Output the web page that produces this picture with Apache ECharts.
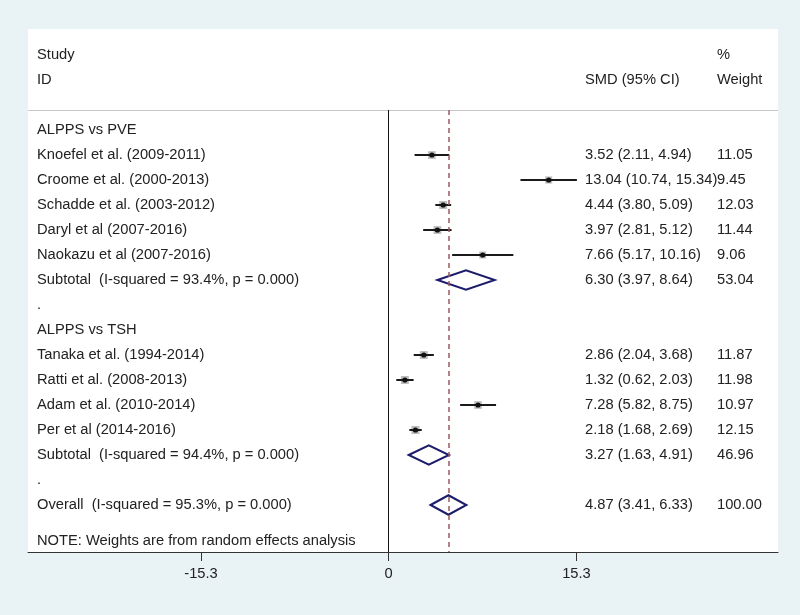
<!DOCTYPE html>
<html>
<head>
<meta charset="utf-8">
<script src="https://cdn.jsdelivr.net/npm/echarts@6/dist/echarts.min.js"></script>
<style>html,body{margin:0;padding:0;background:#e9f2f5;}#chart{width:800px;height:615px;}</style>
</head>
<body>
<div id="chart"></div>
<script>
// ---- data ----
const rowLabels = [
  'ALPPS vs PVE',
  'Knoefel et al. (2009-2011)',
  'Croome et al. (2000-2013)',
  'Schadde et al. (2003-2012)',
  'Daryl et al (2007-2016)',
  'Naokazu et al (2007-2016)',
  'Subtotal  (I-squared = 93.4%, p = 0.000)',
  '.',
  'ALPPS vs TSH',
  'Tanaka et al. (1994-2014)',
  'Ratti et al. (2008-2013)',
  'Adam et al. (2010-2014)',
  'Per et al (2014-2016)',
  'Subtotal  (I-squared = 94.4%, p = 0.000)',
  '.',
  'Overall  (I-squared = 95.3%, p = 0.000)'
];
const rowKind = ['group','study','study','study','study','study','pooled','blank',
                 'group','study','study','study','study','pooled','blank','pooled'];
const smd    = [null, 3.52, 13.04, 4.44, 3.97, 7.66, 6.30, null, null, 2.86, 1.32, 7.28, 2.18, 3.27, null, 4.87];
const lower  = [null, 2.11, 10.74, 3.80, 2.81, 5.17, 3.97, null, null, 2.04, 0.62, 5.82, 1.68, 1.63, null, 3.41];
const upper  = [null, 4.94, 15.34, 5.09, 5.12, 10.16, 8.64, null, null, 3.68, 2.03, 8.75, 2.69, 4.91, null, 6.33];
const weight = [null, 11.05, 9.45, 12.03, 11.44, 9.06, 53.04, null, null, 11.87, 11.98, 10.97, 12.15, 46.96, null, 100.00];
const xTicks = [-15.3, 0, 15.3];
const overallEffect = 4.87;
const headerStudy = ['Study', 'ID'];
const headerSMD = 'SMD (95% CI)';
const headerWeight = ['%', 'Weight'];
const noteText = 'NOTE: Weights are from random effects analysis';

// ---- layout helpers ----
const FONT = "'Liberation Sans', Arial, sans-serif";
const FS = 14.7;
const TXT = '#222';
const Y_MIN = -4.04, Y_MAX = 16.88;
const X_MIN = -29.4, X_MAX = 31.73;
const NOTE_ROW = 16.45;
const SEP_ROW = -0.8;
const HDR1 = -3, HDR2 = -2;

const rows = rowLabels.map((_, i) => i);

function labelMap(entries) {
  const vals = entries.map(e => e[0]);
  return {
    vals,
    fmt: function (v) {
      for (const e of entries) if (Math.abs(e[0] - v) < 1e-6) return e[1];
      return '';
    }
  };
}

const col1 = labelMap([[HDR1, headerStudy[0]], [HDR2, headerStudy[1]]]
  .concat(rows.map(i => [i, rowLabels[i]])).concat([[NOTE_ROW, noteText]]));
const col2 = labelMap([[HDR2, headerSMD]].concat(rows.filter(i => smd[i] != null)
  .map(i => [i, smd[i].toFixed(2) + ' (' + lower[i].toFixed(2) + ', ' + upper[i].toFixed(2) + ')'])));
const col3 = labelMap([[HDR1, headerWeight[0]], [HDR2, headerWeight[1]]].concat(rows.filter(i => weight[i] != null)
  .map(i => [i, weight[i].toFixed(2)])));

function yAx(col, offset) {
  return {
    type: 'value', inverse: true, min: Y_MIN, max: Y_MAX, position: 'left', offset: offset,
    axisLine: { show: false }, axisTick: { show: false }, splitLine: { show: false },
    axisLabel: {
      inside: true, align: 'left', margin: 9, customValues: col.vals, formatter: col.fmt,
      color: TXT, fontSize: FS, fontFamily: FONT, showMinLabel: true, showMaxLabel: true
    }
  };
}

const studyData = rows.filter(i => rowKind[i] === 'study').map(i => [lower[i], upper[i], smd[i], i, weight[i]]);
const pooledData = rows.filter(i => rowKind[i] === 'pooled').map(i => [lower[i], upper[i], smd[i], i]);

const chart = echarts.init(document.getElementById('chart'), null, { renderer: 'canvas' });
chart.setOption({
  backgroundColor: '#e9f2f5',
  animation: false,
  grid: { left: 28, right: 22, top: 29, bottom: 63, show: true, backgroundColor: '#ffffff', borderWidth: 0, outerBoundsMode: 'none' },
  xAxis: {
    type: 'value', min: X_MIN, max: X_MAX, position: 'bottom',
    axisLine: { show: true, onZero: false, lineStyle: { color: '#333', width: 1 } },
    axisTick: { show: true, customValues: xTicks, length: 9, lineStyle: { color: '#333' } },
    splitLine: { show: false },
    axisLabel: { customValues: xTicks, margin: 14, color: TXT, fontSize: FS, fontFamily: FONT }
  },
  yAxis: [yAx(col1, 0), yAx(col2, -(585 - 28 - 9)), yAx(col3, -(717 - 28 - 9))],
  series: [
    {
      type: 'custom', name: 'studies', xAxisIndex: 0, yAxisIndex: 0, data: studyData,
      renderItem: function (params, api) {
        const p1 = api.coord([api.value(0), api.value(3)]);
        const p2 = api.coord([api.value(1), api.value(3)]);
        const c = api.coord([api.value(2), api.value(3)]);
        const s = 2.3 * Math.sqrt(api.value(4));
        return {
          type: 'group', children: [
            { type: 'rect', shape: { x: c[0] - s / 2, y: c[1] - s / 2, width: s, height: s }, style: { fill: '#bdbdbd' } },
            { type: 'line', shape: { x1: p1[0], y1: p1[1], x2: p2[0], y2: p2[1] }, style: { stroke: '#1a1a1a', lineWidth: 2 } },
            { type: 'circle', shape: { cx: c[0], cy: c[1], r: 2.6 }, style: { fill: '#111' } }
          ]
        };
      },
      markLine: {
        silent: true, symbol: 'none', label: { show: false },
        data: [
          [{ coord: [X_MIN, SEP_ROW], lineStyle: { color: '#c8c8c8', width: 1.2, type: 'solid' } }, { coord: [X_MAX, SEP_ROW] }],
          [{ coord: [0, SEP_ROW], lineStyle: { color: '#111', width: 1, type: 'solid' } }, { coord: [0, Y_MAX] }],
          [{ coord: [overallEffect, SEP_ROW], lineStyle: { color: '#9c5860', width: 1.5, type: [5, 4] } }, { coord: [overallEffect, Y_MAX] }]
        ]
      },
      z: 3
    },
    {
      type: 'custom', name: 'pooled', xAxisIndex: 0, yAxisIndex: 0, data: pooledData,
      renderItem: function (params, api) {
        const r = api.value(3);
        const l = api.coord([api.value(0), r]);
        const rr = api.coord([api.value(1), r]);
        const t = api.coord([api.value(2), r - 0.39]);
        const b = api.coord([api.value(2), r + 0.39]);
        return {
          type: 'polygon', shape: { points: [l, t, rr, b] },
          style: { fill: 'none', stroke: '#1c1c6b', lineWidth: 2 }
        };
      },
      z: 4
    }
  ]
});
</script>
</body>
</html>
